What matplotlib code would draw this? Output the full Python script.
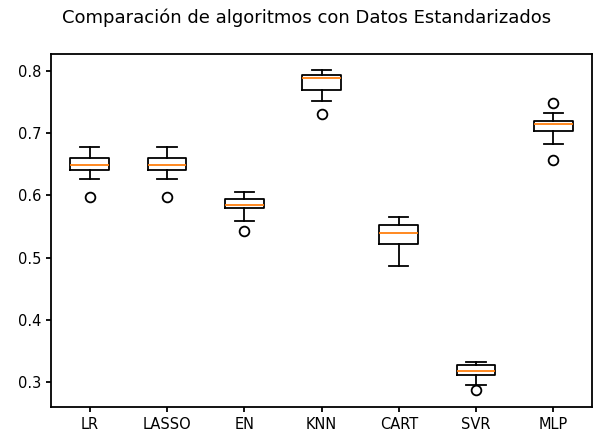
import matplotlib
matplotlib.use("Agg")
import matplotlib.pyplot as plt

# algoritmos y estadisticas
names = ["LR", "LASSO", "EN", "KNN", "CART", "SVR", "MLP"]
med = [0.649, 0.649, 0.584, 0.788, 0.539, 0.318, 0.714]
q1 = [0.641, 0.641, 0.579, 0.769, 0.522, 0.312, 0.704]
q3 = [0.660, 0.660, 0.594, 0.793, 0.553, 0.328, 0.720]
whislo = [0.626, 0.626, 0.558, 0.751, 0.487, 0.295, 0.683]
whishi = [0.677, 0.677, 0.605, 0.802, 0.565, 0.333, 0.732]
fliers = [[0.597], [0.597], [0.542], [0.730], [], [0.287], [0.749, 0.657]]

stats = []
for i in range(len(names)):
    stats.append({"label": names[i], "med": med[i], "q1": q1[i], "q3": q3[i],
                  "whislo": whislo[i], "whishi": whishi[i], "fliers": fliers[i]})

lw = 1.3
fig = plt.figure(figsize=(5.95, 4.34), dpi=100)
ax = fig.add_axes([51/595, 27/434, 541/595, 353/434])
ax.bxp(stats, showfliers=True,
       boxprops=dict(linewidth=lw), whiskerprops=dict(linewidth=lw),
       capprops=dict(linewidth=lw), medianprops=dict(linewidth=lw, color="#ff7f0e"),
       flierprops=dict(markeredgewidth=lw, markersize=7))
ax.set_ylim(0.260, 0.827)
ax.tick_params(labelsize=10.5, width=lw)
for s in ax.spines.values():
    s.set_linewidth(lw)
fig.text(307/595, 1 - 18/434, "Comparación de algoritmos con Datos Estandarizados",
         ha="center", va="center", fontsize=13)

fig.savefig("out.png", dpi=100)
